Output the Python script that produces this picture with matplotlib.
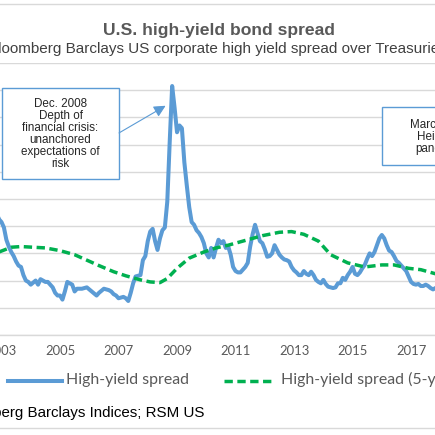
import matplotlib
matplotlib.use("Agg")
import matplotlib.pyplot as plt
from matplotlib.lines import Line2D
from matplotlib.patches import Rectangle, FancyArrowPatch
import pandas as pd

# ---------------- data ----------------
hy_start = "2002-10"
hy_spread = [
    9.8, 9.0, 8.5,
    8.3, 7.9, 7.0, 6.5, 6.1, 5.8, 5.4, 5.1, 5.0, 4.4, 4.0, 3.9,
    3.7, 3.85, 4.0, 3.7, 4.1, 4.0, 3.9, 3.9, 3.7, 3.5, 3.1, 2.9,
    2.9, 2.6, 3.2, 3.9, 3.8, 3.7, 3.2, 3.4, 3.4, 3.4, 3.45, 3.5,
    3.35, 3.2, 3.05, 2.9, 3.1, 3.25, 3.4, 3.35, 3.3, 3.2, 3.0, 2.9,
    2.7, 2.75, 2.8, 2.7, 2.5, 3.1, 3.8, 4.3, 4.35, 4.4, 5.5, 5.8,
    6.9, 7.6, 7.8, 6.9, 6.25, 7.1, 7.7, 7.9, 9.8, 14.2, 18.3, 16.7,
    14.9, 15.4, 15.2, 12.7, 11.0, 9.4, 8.3, 8.1, 7.7, 7.5, 7.2, 6.75,
    6.0, 5.7, 6.4, 5.7, 6.4, 7.0, 6.75, 6.9, 6.4, 6.5, 5.9, 5.0,
    4.7, 4.6, 4.6, 4.8, 5.0, 5.3, 6.5, 7.4, 8.1, 7.5, 6.9, 6.75,
    6.3, 5.75, 5.8, 6.0, 6.6, 6.25, 5.9, 5.7, 5.55, 5.5, 5.4, 5.0,
    4.75, 4.6, 4.4, 4.4, 4.7, 4.5, 4.4, 4.65, 4.4, 4.05, 3.9, 3.8,
    4.05, 3.75, 3.55, 3.5, 3.45, 3.5, 3.8, 3.8, 4.2, 4.05, 4.4, 4.65,
    5.0, 4.5, 4.4, 4.6, 4.9, 5.15, 5.6, 6.0, 5.8, 6.1, 6.6, 7.1,
    7.35, 7.1, 6.6, 6.2, 6.1, 5.8, 5.45, 5.3, 5.1, 4.9, 4.7, 4.3,
    3.9, 3.75, 3.7, 3.75, 3.6, 3.6, 3.7, 3.6, 3.45, 3.35, 3.45, 3.5,
    3.6, 3.5, 3.7,
]

ma_dates = [
    "2002-07", "2002-12", "2003-05", "2003-09", "2004-02", "2004-07",
    "2005-01", "2005-07", "2005-12", "2006-05", "2006-11", "2007-04",
    "2007-10", "2008-02", "2008-06", "2008-09", "2009-01", "2009-06",
    "2009-12", "2010-05", "2010-10", "2011-05", "2011-12", "2012-07",
    "2012-12", "2013-05", "2013-11", "2014-04", "2014-11", "2015-06",
    "2016-01", "2016-06", "2016-12", "2017-05", "2017-11", "2018-05",
]
ma_values = [
    5.7, 6.1, 6.45, 6.5, 6.45, 6.4,
    6.2, 5.9, 5.5, 5.1, 4.65, 4.35,
    4.05, 3.9, 3.85, 4.15, 4.9, 5.65,
    6.1, 6.4, 6.6, 6.95, 7.3, 7.55,
    7.6, 7.4, 6.9, 5.9, 5.3, 5.0,
    5.15, 5.15, 4.9, 4.8, 4.5, 4.2,
]

tick_years = [2003, 2005, 2007, 2009, 2011, 2013, 2015, 2017]
y_grid = list(range(0, 21, 2))

title = "U.S. high-yield bond spread"
subtitle = "Bloomberg Barclays US corporate high yield spread over Treasuries"
source = "Source: Bloomberg Barclays Indices; RSM US"
legend_labels = ["High-yield spread", "High-yield spread (5-year moving average)"]
note1 = "Dec. 2008\nDepth of\nfinancial crisis:\nunanchored\nexpectations of\nrisk"
note2 = "March 2020\nHeight of\npandemic"


def to_year(periods):
    return [p.year + (p.month - 1) / 12 for p in periods]


hy_x = to_year(pd.period_range(hy_start, periods=len(hy_spread), freq="M"))
ma_x = to_year([pd.Period(d, freq="M") for d in ma_dates])

# ---------------- figure ----------------
W = H = 435
fig = plt.figure(figsize=(4.351, 4.351), dpi=100)
fig.patch.set_facecolor("white")


def fx(px):
    return px / W


def fy(py):
    return 1 - py / H


BLUE = "#5B9BD5"
GREEN = "#00B050"
GRID = "#D9D9D9"
GREY = "#595959"

ax = fig.add_axes([0, fy(335), 1, (335 - 63) / H])
ax.set_xlim(2002.949, 2017.821)
ax.set_ylim(0, 20)
for s in ax.spines.values():
    s.set_visible(False)
ax.set_yticks(y_grid)
ax.yaxis.grid(True, color=GRID, lw=1.0)
ax.axhline(0, color=GRID, lw=1.0, clip_on=False, zorder=1)
ax.set_axisbelow(True)
ax.tick_params(axis="y", left=False, labelleft=False)
ax.set_xticks(tick_years)
ax.set_xticklabels([str(y) for y in tick_years], family="Lato", fontsize=9.4, color=GREY)
ax.tick_params(axis="x", length=0, pad=7.5)

ax.plot(hy_x, hy_spread, color=BLUE, lw=2.9, solid_joinstyle="round", zorder=3)
ax.plot(ma_x, ma_values, color=GREEN, lw=2.5, dashes=(2.4, 1.3), zorder=4)

# titles
fig.text(fx(218.5), fy(35), title, ha="center", va="baseline",
         family="Liberation Sans", fontweight="bold", fontsize=12.6, color=GREY)
fig.text(fx(217), fy(53.3), subtitle, ha="center", va="baseline",
         family="Liberation Sans", fontsize=11, color="#404040")

# frame lines
for yy in (4, 428):
    fig.add_artist(Line2D([0, 1], [fy(yy), fy(yy)], color=GRID, lw=1.0))

# legend
fig.add_artist(Line2D([fx(8), fx(62)], [fy(380.7), fy(380.7)], color=BLUE, lw=2.9))
fig.text(fx(66), fy(379.5), legend_labels[0], ha="left", va="center",
         family="Lato", fontsize=11.4, color=GREY)
fig.add_artist(Line2D([fx(224), fx(273)], [fy(380.7), fy(380.7)], color=GREEN,
                      lw=2.5, dashes=(2.4, 1.3)))
fig.text(fx(281), fy(379.5), legend_labels[1], ha="left", va="center",
         family="Lato", fontsize=11.4, color=GREY)

# source
fig.text(fx(204.5), fy(417), source, ha="right", va="baseline",
         family="Liberation Sans", fontsize=10.9, color="#000000")

# annotation 1
fig.add_artist(Rectangle((fx(2), fy(179)), fx(117), (179 - 88) / H,
                         transform=fig.transFigure, facecolor="white",
                         edgecolor=BLUE, lw=1.0, zorder=5))
fig.text(fx(60.5), fy(134), note1, ha="center", va="center", linespacing=1.0,
         family="Liberation Sans", fontsize=8.4, color="#262626", zorder=6)
tip = fig.transFigure.inverted().transform(ax.transData.transform((2008.61, 16.85)))
arrow = FancyArrowPatch(posA=(fx(119), fy(133)), posB=tuple(tip),
                        transform=fig.transFigure,
                        arrowstyle="-|>,head_length=7,head_width=3.5",
                        color=BLUE, lw=0.8, shrinkA=0, shrinkB=0, zorder=6)
fig.add_artist(arrow)

# annotation 2
fig.add_artist(Rectangle((fx(382), fy(165)), fx(117), (165 - 107.5) / H,
                         transform=fig.transFigure, facecolor="white",
                         edgecolor=BLUE, lw=1.0, zorder=5))
fig.text(fx(440.5), fy(136.5), note2, ha="center", va="center", linespacing=1.0,
         family="Liberation Sans", fontsize=8.4, color="#262626", zorder=6)

fig.savefig("out.png", dpi=100, facecolor="white")
